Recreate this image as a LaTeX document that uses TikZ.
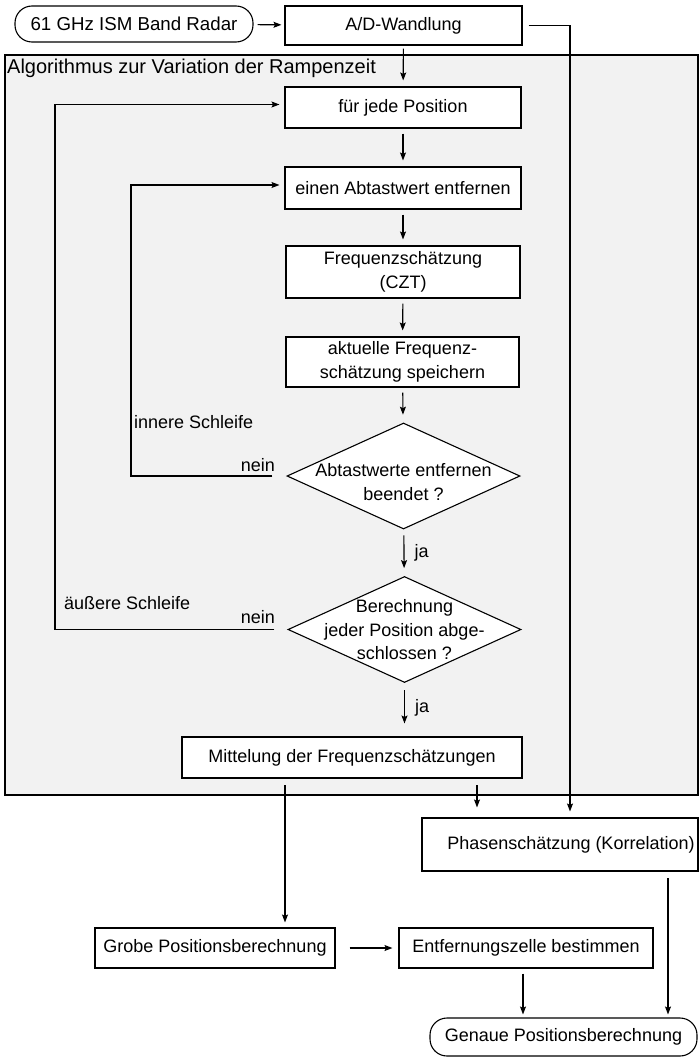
\documentclass[tikz,border=0pt]{standalone}
\usepackage{fontspec}
\setmainfont{Liberation Sans}
\usetikzlibrary{arrows.meta,shapes.geometric}

\begin{document}
\begin{tikzpicture}[
            x=1pt, y=-1pt,
            every node/.style = {font=\fontsize{18}{23.5}\selectfont, align=center, inner sep=0pt},
            box/.style = {draw=black, fill=white, line width=1.1pt},
            term/.style = {box, rounded corners=17pt},
            decision/.style = {diamond, draw=black, fill=white, line width=1.1pt, minimum width=233pt, minimum height=106pt},
            flow/.style = {-{Stealth[length=8pt, width=6pt, inset=1.5pt]}, line width=1.1pt, shorten <=5pt, shorten >=6pt},
            conn/.style = {line width=1.1pt}
          ]
          \useasboundingbox (0,0) rectangle (699,1057);

          \node[draw=black, fill=gray!10, line width=1.1pt, minimum width=693pt, minimum height=740pt] (algo) at (351.5,425) {};
          \node[anchor=west, font=\fontsize{20}{24}\selectfont] (title) at (7,68) {Algorithmus zur Variation der Rampenzeit};

          \node[term, minimum width=238pt, minimum height=36pt, font=\fontsize{18.7}{23.5}\selectfont] (radar) at (134,24) {61 GHz ISM Band Radar};
          \node[box, minimum width=237pt, minimum height=39pt] (ad) at (403.5,25.5) {A/D-Wandlung};
          \node[box, minimum width=236pt, minimum height=41pt] (pos) at (403,107.5) {f\"ur jede Position};
          \node[box, minimum width=236pt, minimum height=42pt] (remove) at (403,188) {einen Abtastwert entfernen};
          \node[box, minimum width=234pt, minimum height=52pt] (czt) at (403,272) {Frequenzsch\"atzung\\(CZT)};
          \node[box, minimum width=233pt, minimum height=50pt] (store) at (402.5,362) {aktuelle Frequenz-\\sch\"atzung speichern};
          \node[decision] (done1) at (403.5,476) {};
          \node at (403.5,482) {Abtastwerte entfernen\\beendet ?};
          \node[decision] (done2) at (404.5,629.5) {};
          \node at (404.5,630) {Berechnung\\jeder Position abge-\\schlossen ?};
          \node[box, minimum width=340pt, minimum height=41pt] (mean) at (352,757.5) {Mittelung der Frequenzsch\"atzungen};

          \node[box, minimum width=276pt, minimum height=53pt] (phase) at (560,844.5) {\hspace{22pt}Phasensch\"atzung (Korrelation)};
          \node[box, minimum width=240pt, minimum height=40pt] (coarse) at (215,948) {Grobe Positionsberechnung};
          \node[box, minimum width=254pt, minimum height=40pt] (cell) at (526,948) {Entfernungszelle bestimmen};
          \node[term, minimum width=267pt, minimum height=38pt] (fine) at (563.5,1037) {Genaue Positionsberechnung};

          \coordinate (tap) at (570,25.5);
          \coordinate (innerloop) at (131,0);
          \coordinate (outerloop) at (55,0);
          \coordinate (split) at (285,778);
          \coordinate (merge) at (477,778);
          \coordinate (exact) at (668,871);

          \draw[flow, shorten <=4pt, shorten >=3pt] (radar) -- (ad);
          \draw[flow, shorten <=6pt] (ad.east) -- (tap) -- (tap |- phase.north) ;
          \draw[flow, shorten <=3pt] (ad) -- (pos);
          \draw[flow] (pos) -- (remove);
          \draw[flow] (remove) -- (czt);
          \draw[flow] (czt) -- (store);
          \draw[flow, shorten >=8pt] (store) -- (done1);
          \draw[flow, shorten <=6pt, shorten >=8pt] (done1) -- node[anchor=west, xshift=10pt] {ja} (done2);
          \draw[flow, shorten <=7pt, shorten >=13pt] (done2.south) -- (done2.south |- mean.north) node[midway, anchor=west, xshift=10pt, yshift=2pt] {ja};

          \draw[flow, shorten <=14pt, shorten >=5pt] (done1.west) -- (done1.west -| innerloop) |- ([yshift=3pt]remove.west);
          \draw[flow, shorten <=13pt, shorten >=5pt] (done2.west) -- (done2.west -| outerloop) |- ([yshift=3pt]pos.west);
          \node[anchor=east] at (275,465) {nein};
          \node[anchor=east] at (275,617) {nein};
          \node[anchor=west] at (134,422) {innere Schleife};
          \node[anchor=west] at (64,603) {\"au\ss ere Schleife};

          \draw[flow, shorten <=7pt, shorten >=5pt] (split) -- (split |- coarse.north);
          \draw[flow, shorten <=7pt, shorten >=10pt] (merge) -- (merge |- phase.north);
          \draw[flow, shorten <=14pt, shorten >=6pt] (coarse) -- (cell);
          \draw[flow, shorten >=3pt] ([xshift=-3pt]cell.south) -- ([xshift=-3pt]cell.south |- fine.north);
          \draw[flow, shorten <=7pt, shorten >=3pt] (exact) -- (exact |- fine.north);
\end{tikzpicture}
\end{document}
